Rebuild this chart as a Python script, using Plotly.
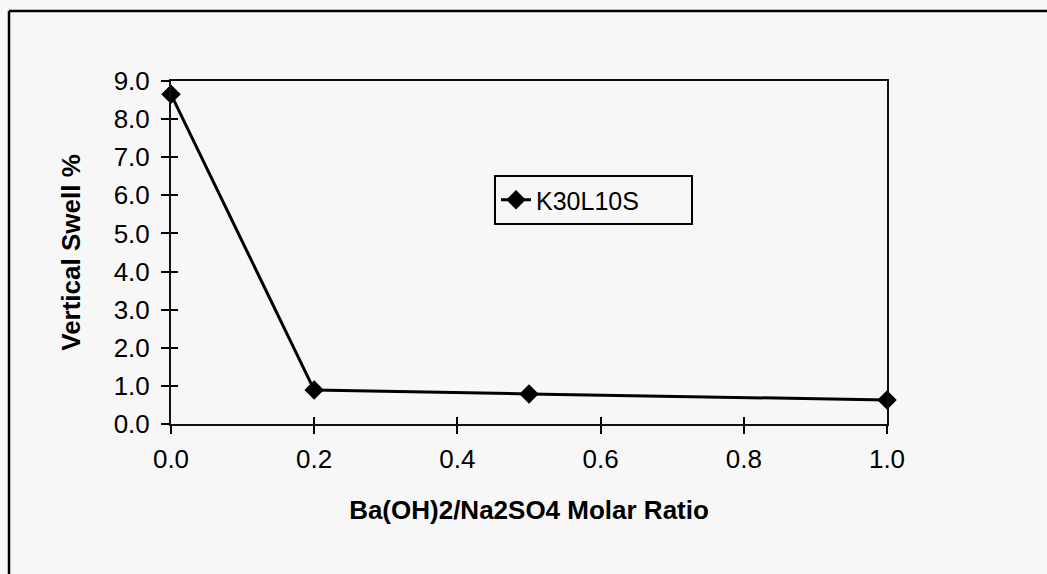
import plotly.graph_objects as go

ratio = [0.0, 0.2, 0.5, 1.0]
swell = [8.65, 0.89, 0.79, 0.63]
series_name = "K30L10S"
x_ticks = [0.0, 0.2, 0.4, 0.6, 0.8, 1.0]
x_ticktext = ["0.0", "0.2", "0.4", "0.6", "0.8", "1.0"]
y_ticks = [0, 1, 2, 3, 4, 5, 6, 7, 8, 9]
y_ticktext = ["0.0", "1.0", "2.0", "3.0", "4.0", "5.0", "6.0", "7.0", "8.0", "9.0"]

FONT = "Arial, Liberation Sans, Helvetica, sans-serif"
BG = "#f7f7f7"

fig = go.Figure()
fig.add_trace(go.Scatter(
    x=ratio, y=swell, name=series_name, mode="lines+markers",
    line=dict(color="black", width=3),
    marker=dict(symbol="diamond", size=15, color="black"),
    cliponaxis=False,
))

L, R, T, B = 171, 160, 81, 150
W, H = 1047, 574
pw = W - L - R
ph = H - T - B

def px_x(p):
    return (p - L) / pw

def px_y(p):
    return (H - B - p) / ph

fig.update_layout(
    width=W, height=H,
    margin=dict(l=L, r=R, t=T, b=B, pad=0),
    paper_bgcolor=BG, plot_bgcolor=BG,
    font=dict(family=FONT, size=26, color="black"),
    showlegend=True,
    legend=dict(
        x=px_x(494), y=px_y(175), xanchor="left", yanchor="top",
        bgcolor=BG, bordercolor="black", borderwidth=2,
        font=dict(family=FONT, size=25, color="black"),
        orientation="h", entrywidth=150, entrywidthmode="pixels",
    ),
    xaxis=dict(
        range=[0, 1], tickvals=x_ticks, ticktext=x_ticktext,
        showgrid=False, zeroline=False,
        showline=True, linecolor="#111", linewidth=2, mirror=True,
        ticks="outside", ticklen=8, tickwidth=2, tickcolor="black",
        ticklabelstandoff=3,
        tickfont=dict(size=26),
        title=dict(text="<b>Ba(OH)2/Na2SO4 Molar Ratio</b>",
                   font=dict(family=FONT, size=26), standoff=28),
    ),
    yaxis=dict(
        range=[0, 9], tickvals=y_ticks, ticktext=y_ticktext,
        showgrid=False, zeroline=False,
        showline=True, linecolor="#111", linewidth=2, mirror=True,
        ticks="outside", ticklen=8, tickwidth=2, tickcolor="black",
        ticklabelstandoff=6,
        tickfont=dict(size=26),
        title=dict(text="<b>Vertical Swell %</b>",
                   font=dict(family=FONT, size=26), standoff=26),
    ),
    xaxis2=dict(
        range=[0, 1], tickvals=x_ticks, overlaying="x", side="bottom",
        showgrid=False, zeroline=False, showline=False,
        ticks="inside", ticklen=7, tickwidth=2, tickcolor="black",
        showticklabels=False, anchor="y",
    ),
    yaxis2=dict(
        range=[0, 9], tickvals=y_ticks, overlaying="y", side="left",
        showgrid=False, zeroline=False, showline=False,
        ticks="inside", ticklen=7, tickwidth=2, tickcolor="black",
        showticklabels=False, anchor="x",
    ),
    shapes=[
        dict(type="line", xref="paper", yref="paper",
             x0=px_x(9), x1=px_x(W), y0=px_y(11), y1=px_y(11),
             line=dict(color="black", width=2.5)),
        dict(type="line", xref="paper", yref="paper",
             x0=px_x(9), x1=px_x(9), y0=px_y(11), y1=px_y(H),
             line=dict(color="black", width=2.5)),
    ],
)

# invisible trace so the overlay axes are drawn
fig.add_trace(go.Scatter(x=[None], y=[None], xaxis="x2", yaxis="y2",
                         showlegend=False, hoverinfo="skip"))

fig.write_html(
    "out.html",
    config={"displayModeBar": False},
    post_script="document.body.style.margin='0';document.body.style.background='#f7f7f7';",
)
